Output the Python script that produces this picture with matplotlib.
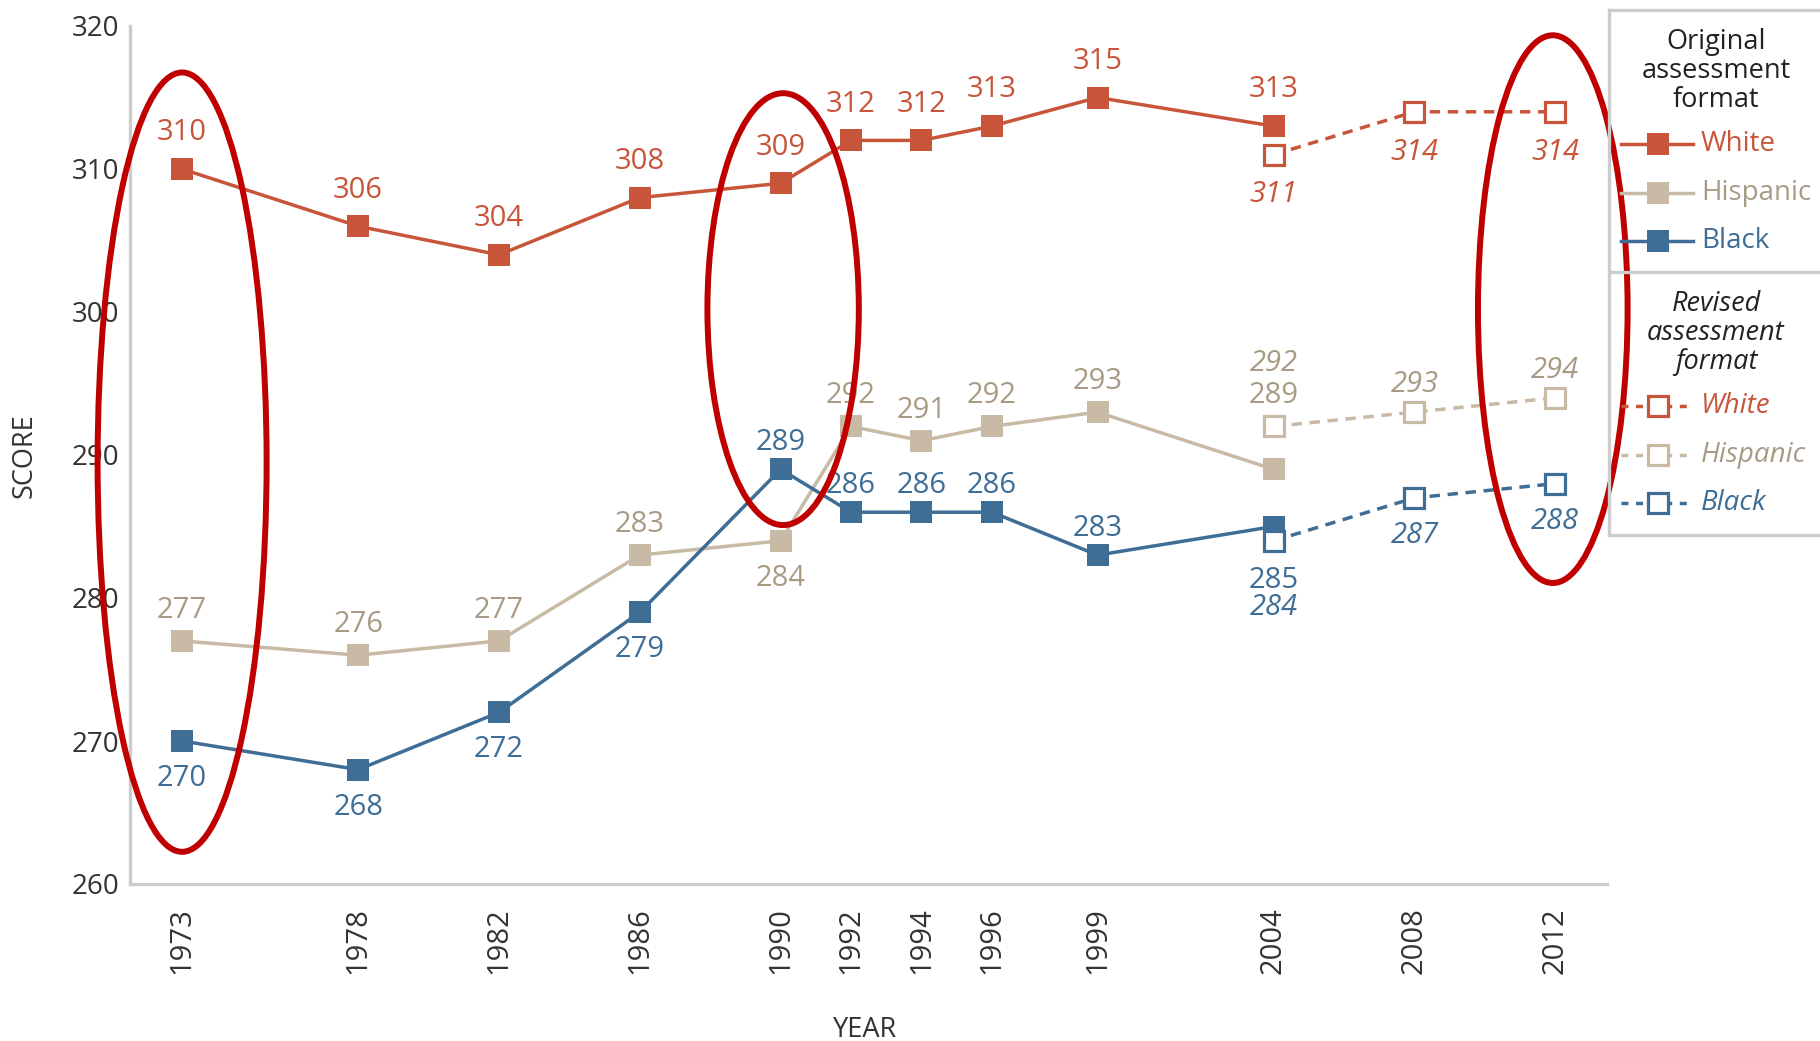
import matplotlib.pyplot as plt
from matplotlib.patches import Ellipse
from matplotlib.lines import Line2D

plt.rcParams['font.family'] = ['Open Sans', 'DejaVu Sans']

years = [1973, 1978, 1982, 1986, 1990, 1992, 1994, 1996, 1999, 2004]
rev_years = [2004, 2008, 2012]
tick_years = [1973, 1978, 1982, 1986, 1990, 1992, 1994, 1996, 1999, 2004, 2008, 2012]

white = [310, 306, 304, 308, 309, 312, 312, 313, 315, 313]
hispanic = [277, 276, 277, 283, 284, 292, 291, 292, 293, 289]
black = [270, 268, 272, 279, 289, 286, 286, 286, 283, 285]

white_rev = [311, 314, 314]
hispanic_rev = [292, 293, 294]
black_rev = [284, 287, 288]

# label offsets in points (+ above, - below)
white_off = [26] * 10
white_rev_off = [-29, -29, -29]
hisp_off = [22, 22, 22, 22, -27, 22, 22, 22, 22, 53]
hisp_rev_off = [45.5, 20, 20]
black_off = [-27, -27, -27, -27, 19, 19, 19, 19, 19, -39]
black_rev_off = [-48, -27, -27]

# highlighted years: (x centre, y centre, width, height)
circles = [(1973, 289.5, 4.8, 54.5), (1990.07, 300.2, 4.3, 30.2), (2011.93, 300.2, 4.25, 38.3)]

c_white = '#c8553a'
c_hisp = '#c8baa5'
c_hisp_txt = '#a89b85'
c_black = '#3e6d96'
c_grid = '#cccccc'

W, H = 1820, 1041
fig = plt.figure(figsize=(W / 100, H / 100), dpi=100)
ax = fig.add_axes([130 / W, 1 - 884 / H, (1607 - 130) / W, (884 - 26) / H])

series = [
    (white, white_off, white_rev, white_rev_off, c_white, c_white),
    (hispanic, hisp_off, hispanic_rev, hisp_rev_off, c_hisp, c_hisp_txt),
    (black, black_off, black_rev, black_rev_off, c_black, c_black),
]

for vals, off, rvals, roff, col, tcol in series:
    ax.plot(years, vals, color=col, lw=2.5, marker='s', ms=16, mec=col, mew=0, zorder=3)
    ax.plot(rev_years, rvals, color=col, lw=2.5, ls=(0, (3, 2.2)), marker='s', ms=14,
            mfc='white', mec=col, mew=2.3, zorder=3)
    for x, y, o in zip(years, vals, off):
        ax.annotate(str(y), (x, y), xytext=(0, o), textcoords='offset points',
                    ha='center', va='center', fontsize=21, color=tcol)
    for x, y, o in zip(rev_years, rvals, roff):
        ax.annotate(str(y), (x, y), xytext=(0, o), textcoords='offset points',
                    ha='center', va='center', fontsize=21, color=tcol, style='italic')

for cx, cy, w, h in circles:
    ax.add_patch(Ellipse((cx, cy), w, h, fill=False, ec='#c00000', lw=4.3, zorder=5, clip_on=False))

ax.set_xlim(1971.52, 2013.47)
ax.set_ylim(260, 320)
ax.set_xticks(tick_years)
ax.set_xticklabels([str(t) for t in tick_years], rotation=90)
ax.set_yticks(range(260, 321, 10))
ax.tick_params(axis='both', length=0, labelcolor='#333333')
ax.tick_params(axis='x', pad=17, labelsize=21)
ax.tick_params(axis='y', pad=8, labelsize=20)
for s in ['top', 'right']:
    ax.spines[s].set_visible(False)
for s in ['left', 'bottom']:
    ax.spines[s].set_color(c_grid)
    ax.spines[s].set_linewidth(2.4)

fig.text(865 / W, 1 - 1030 / H, 'YEAR', ha='center', va='center', fontsize=19.5, color='#333333')
fig.text(25 / W, 1 - 456 / H, 'SCORE', ha='center', va='center', fontsize=19.5, color='#333333',
         rotation=90)


# legend box drawn by hand
def fp(x, y):
    return x / W, 1 - y / H


def fline(xs, ys, **kw):
    fig.add_artist(Line2D([x / W for x in xs], [1 - y / H for y in ys], transform=fig.transFigure, **kw))


fline([1609, 1609], [10, 535], color=c_grid, lw=2.4)
fline([1609, 1830], [10, 10], color=c_grid, lw=2.4)
fline([1609, 1830], [535, 535], color=c_grid, lw=2.4)
fline([1609, 1830], [272, 272], color=c_grid, lw=2.4)

fig.text(*fp(1716, 71), 'Original\nassessment\nformat', ha='center', va='center', fontsize=19.5,
         color='#222222', linespacing=1.05)
fig.text(*fp(1716, 333), 'Revised\nassessment\nformat', ha='center', va='center', fontsize=19.5,
         color='#222222', linespacing=1.05, style='italic')

names = ['White', 'Hispanic', 'Black']
cols = [(c_white, c_white), (c_hisp, c_hisp_txt), (c_black, c_black)]
y_orig = [144, 193, 241]
y_rev = [406, 455, 503]
for name, (col, tcol), yo, yr in zip(names, cols, y_orig, y_rev):
    fline([1621, 1693], [yo, yo], color=col, lw=2.5)
    fline([1658], [yo], color=col, marker='s', ms=16, mew=0)
    fig.text(*fp(1701, yo), name, ha='left', va='center', fontsize=20, color=tcol)
    fline([1621, 1693], [yr, yr], color=col, lw=2.5, ls=(0, (2, 2.2)))
    fline([1658], [yr], color=col, marker='s', ms=14, mfc='white', mec=col, mew=2.3)
    fig.text(*fp(1701, yr), name, ha='left', va='center', fontsize=20, color=tcol, style='italic')

fig.savefig('out.png', dpi=100)
